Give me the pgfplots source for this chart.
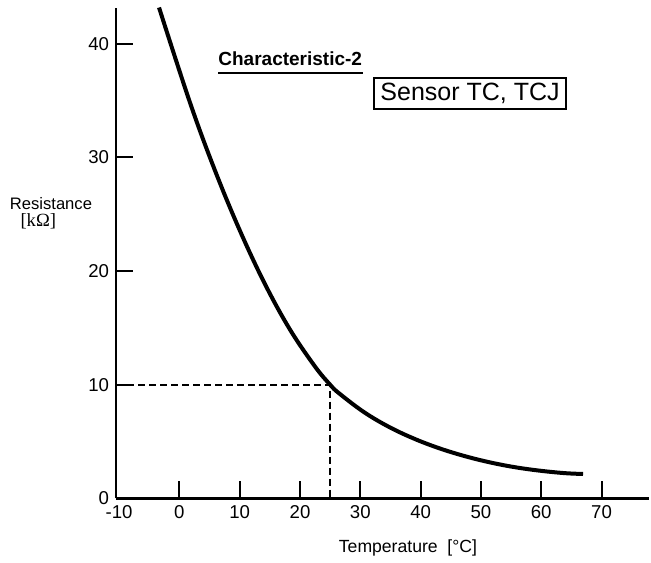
\documentclass[border=0pt]{standalone}
\usepackage{pgfplots}
\pgfplotsset{compat=1.18}
\usepackage{fontspec}
\setmainfont{Liberation Sans}
\newfontfamily\serifunit{Liberation Serif}

\begin{document}
\begin{tikzpicture}
\begin{axis}[
    scale only axis,
    width=266.5pt, height=245.25pt,
    xmin=-10.5, xmax=77.9,
    ymin=0, ymax=43.15,
    axis lines=left,
    axis line style={-, line width=1.3pt},
    tick align=inside,
    major tick length=8.5pt,
    tick style={line width=1pt, black},
    xtick={0,10,...,70},
    extra x ticks={-10},
    extra x tick style={major tick length=0pt},
    ytick={0,10,...,40},
    tick label style={font=\fontsize{9.3}{11}\selectfont},
    /pgf/number format/assume math mode=true,
    clip=false,
]
% R-T curve
\addplot[black, line width=2pt, smooth, tension=0.6] coordinates {
    (-3.38,43.18) (1.76,34.81) (5.90,28.84) (10.05,23.53) (14.20,18.84)
    (18.34,14.85) (22.49,11.60) (25,10) (26.47,9.25) (30.61,7.59)
    (34.76,6.29) (38.90,5.26) (43.05,4.42) (47.20,3.74) (51.34,3.19)
    (55.49,2.76) (59.64,2.45) (63.78,2.23) (66.93,2.15)
};
% 25 C / 10 kOhm reference
\addplot[black, line width=0.8pt, dash pattern=on 3.5pt off 2pt] coordinates {
    (-10.5,10) (25,10) (25,0)
};

\node[anchor=base west, inner sep=0pt, font=\bfseries\fontsize{9.5}{11}\selectfont]
    at (axis cs:6.4,38.1) {Characteristic-2};
\draw[line width=1.15pt] (axis cs:6.4,37.45) -- (axis cs:30.5,37.45);
\node[draw, line width=0.75pt, minimum width=96pt, minimum height=15.5pt, inner sep=0pt,
    font=\fontsize{12.5}{14}\selectfont] at (axis cs:48.2,35.6) {Sensor TC, TCJ};

\node[inner sep=0pt, font=\fontsize{8.3}{10}\selectfont] at (axis cs:-21.3,25.95) {Resistance};
\node[inner sep=0pt, font=\serifunit\fontsize{9.3}{10}\selectfont] at (axis cs:-23.4,24.35) {[kΩ]};
\node[font=\fontsize{8.8}{10}\selectfont] at (axis cs:37.9,-4.35) {Temperature~~[°C]};

\path (axis cs:-29.75,43.84) rectangle (axis cs:78.2,-5.5);
\end{axis}
\end{tikzpicture}
\end{document}
